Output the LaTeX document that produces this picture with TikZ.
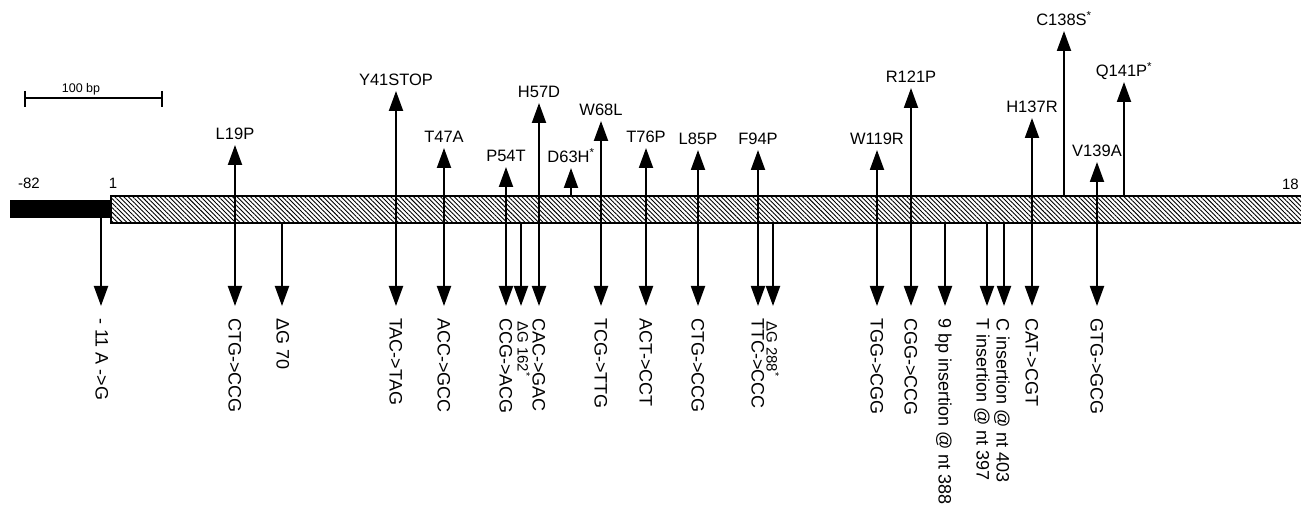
\documentclass[tikz,border=0pt]{standalone}
\usepackage{fontspec}
\setmainfont{Liberation Sans}
\usetikzlibrary{arrows.meta,patterns.meta}
\tikzset{
  tip/.tip={Triangle[length=20pt,width=14pt]},
  arr/.style={line width=2pt,-tip},
  dbl/.style={line width=2pt,tip-tip},
  toplab/.style={font=\fontsize{16.5}{16.5}\selectfont, inner sep=0pt, anchor=base},
  botlab/.style={font=\fontsize{18}{18}\selectfont, inner sep=0pt, rotate=-90, anchor=west, text height=12.9pt, text depth=0pt},
  smalllab/.style={botlab, font=\fontsize{15}{15}\selectfont, text height=10.7pt},
  numlab/.style={font=\fontsize{15}{15}\selectfont, inner sep=0pt, anchor=base},
}
\begin{document}
\begin{tikzpicture}[x=1pt,y=-1pt]
\useasboundingbox (0,0) rectangle (1301,521);
% scale bar
\coordinate (s1) at (25,98);
\coordinate (s2) at (162,98);
\draw[line width=1.6pt] (s1) -- (s2);
\draw[line width=1.6pt] (25,91) -- (25,107) (162,91) -- (162,107);
\node[font=\fontsize{12.5}{12.5}\selectfont, inner sep=0pt, anchor=base] (sb) at (81,93) {100 bp};
% gene
\fill[black] (10,200) rectangle (112,218);
\fill[pattern={Lines[angle=-45,distance=3.2pt,line width=0.9pt]}] (111,196) rectangle (1301,223);
\draw[line width=2pt] (1301,196) -- (111,196) -- (111,223) -- (1301,223);
\node[numlab] (n82) at (29,189) {-82};
\node[numlab] (n1) at (113,189) {1};
\node[numlab, anchor=base east] (n18) at (1299,190) {18};
% double-headed arrows
\foreach \n/\x/\t/\tl/\bl in {
  a/235/145/{L19P}/{CTG->CCG},
  b/396/91/{Y41STOP}/{TAC->TAG},
  c/444/148/{T47A}/{ACC->GCC},
  d/506/167/{P54T}/{CCG->ACG},
  e/539/103/{H57D}/{CAC->GAC},
  f/601/121/{W68L}/{TCG->TTG},
  g/646/148/{T76P}/{ACT->CCT},
  h/698/150/{L85P}/{CTG->CCG},
  i/758/150/{F94P}/{TTC->CCC},
  j/877/150/{W119R}/{TGG->CGG},
  k/911/88/{R121P}/{CGG->CCG},
  l/1032/118/{H137R}/{CAT->CGT},
  m/1097/162/{V139A}/{GTG->GCG}}{
  \coordinate (u\n) at (\x,\t);
  \coordinate (d\n) at (\x,306);
  \draw[dbl] (u\n) -- (d\n);
  \node[toplab] (t\n) at (\x,\t-5) {\tl};
  \node[botlab] (b\n) at (\x,318) {\bl};
}
% up-only arrows
\foreach \n/\x/\t/\tl in {
  p/571/168/{D63H\textsuperscript{*}},
  q/1064/31/{C138S\textsuperscript{*}},
  r/1124/82/{Q141P\textsuperscript{*}}}{
  \coordinate (o\n) at (\x,196);
  \coordinate (u\n) at (\x,\t);
  \draw[arr] (o\n) -- (u\n);
  \node[toplab] (t\n) at (\x,\t-5) {\tl};
}
% down-only arrows
\coordinate (os) at (101,218);
\coordinate (ds) at (101,306);
\draw[arr] (os) -- (ds);
\node[botlab] (bs) at (102,318) {- 11 A ->G};
\foreach \n/\x/\lx/\bl in {
  v/282/283/{ΔG 70},
  w/945/945/{9 bp insertion @ nt 388},
  y/987/983/{T insertion @ nt 397},
  z/1004/1003/{C insertion @ nt 403}}{
  \coordinate (o\n) at (\x,223);
  \coordinate (d\n) at (\x,306);
  \draw[arr] (o\n) -- (d\n);
  \node[botlab] (b\n) at (\lx,318) {\bl};
}
\foreach \n/\x/\lx/\bl in {
  s1/521/523/{ΔG 162\textsuperscript{*}},
  s2/773/772/{ΔG 288\textsuperscript{*}}}{
  \coordinate (o\n) at (\x,223);
  \coordinate (d\n) at (\x,306);
  \draw[arr] (o\n) -- (d\n);
  \node[smalllab] (b\n) at (\lx,321) {\bl};
}
\end{tikzpicture}
\end{document}
